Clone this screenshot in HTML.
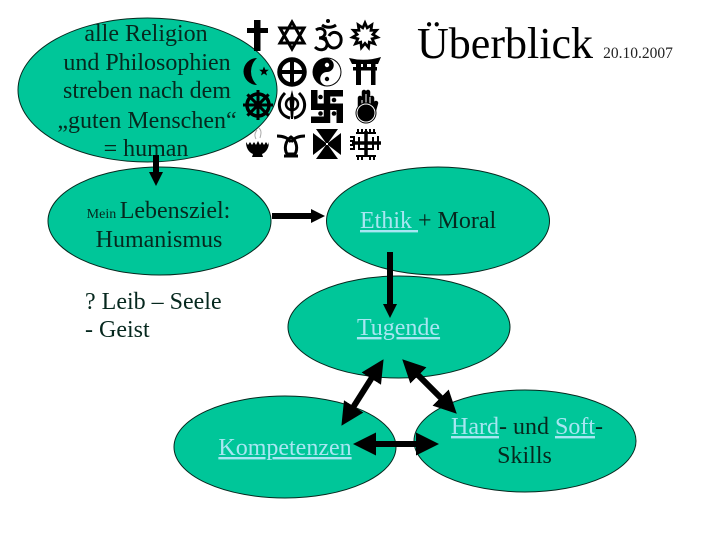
<!DOCTYPE html>
<html><head><meta charset="utf-8"><style>
html,body{margin:0;padding:0;background:#fff}
svg{display:block}
text{font-family:"Liberation Serif",serif;font-size:24px;fill:#06281e;text-anchor:middle}
.l{fill:#a8e6f2;text-decoration:underline;text-decoration-thickness:2px}
</style></head><body>
<svg width="720" height="540" viewBox="0 0 720 540" xmlns="http://www.w3.org/2000/svg">
<rect width="720" height="540" fill="#fff"/>
<defs>
<marker id="s" markerUnits="userSpaceOnUse" markerWidth="14" markerHeight="14" refX="8" refY="7" orient="auto-start-reverse"><path d="M0 0L14 7L0 14z" fill="#000"/></marker>
<marker id="b" markerUnits="userSpaceOnUse" markerWidth="23" markerHeight="23" refX="12" refY="11.500" orient="auto-start-reverse"><path d="M0 0L23 11.500L0 23z" fill="#000"/></marker>
</defs>
<!-- ellipses -->
<g fill="#00c699" stroke="#06281e" stroke-width="1">
<ellipse cx="147.500" cy="90" rx="129.500" ry="72"/>
<ellipse cx="159.500" cy="221" rx="111.500" ry="54"/>
<ellipse cx="438" cy="221" rx="111.500" ry="54"/>
<ellipse cx="399" cy="327" rx="111" ry="51"/>
<ellipse cx="285" cy="447" rx="111" ry="51"/>
<ellipse cx="525" cy="441" rx="111" ry="51"/>
</g>
<!-- religious symbols -->
<g fill="#000">
<!-- row 1 -->
<rect x="254" y="20" width="6.500" height="31"/><rect x="247" y="28" width="21" height="5"/>
<g fill="none" stroke="#000" stroke-width="3"><path d="M292 22l12 21h-24zM292 49l12-21h-24z"/></g>
<g fill="none" stroke="#000" stroke-width="3"><path d="M316 30c4-3 10-1 9 4-1 3-3 4-6 4 6 0 9 4 8 7-1 6-8 6-12 2"/><path d="M325 37c2 8 5 11 9 11s8-4 7-10-9-8-12-2"/><path d="M322 25c4 3 10 3 14 0"/></g>
<circle cx="328" cy="21" r="2"/>
<g transform="translate(365,35.500)">
<polygon points="0,-16 2.800,-9.600 8.600,-13.500 7.600,-6.500 14.600,-6.600 9.900,-1.400 15.800,2.300 9.100,4.200 12.100,10.500 5.400,8.400 4.500,15.400 0,10 -4.500,15.400 -5.400,8.400 -12.100,10.500 -9.100,4.200 -15.800,2.300 -9.900,-1.400 -14.600,-6.600 -7.600,-6.500 -8.600,-13.500 -2.800,-9.600"/>
<polygon transform="scale(.58)" fill="#fff" points="0,-16 2.800,-9.600 8.600,-13.500 7.600,-6.500 14.600,-6.600 9.900,-1.400 15.800,2.300 9.100,4.200 12.100,10.500 5.400,8.400 4.500,15.400 0,10 -4.500,15.400 -5.400,8.400 -12.100,10.500 -9.100,4.200 -15.800,2.300 -9.900,-1.400 -14.600,-6.600 -7.600,-6.500 -8.600,-13.500 -2.800,-9.600"/>
</g>
<!-- row 2 -->
<path d="M257 58A13.500 13.500 0 0 0 257 85A18.200 18.200 0 0 1 257 58z"/>
<path d="M264 66.500l1.300 3.300h3.500l-2.800 2.200 1 3.500-3-2-3 2 1-3.500-2.800-2.200h3.500z"/>
<g fill="none" stroke="#000"><circle cx="292" cy="72" r="12.500" stroke-width="4.500"/><path d="M292 60v24M280 72h24" stroke-width="4"/></g>
<circle cx="327" cy="72" r="14.500"/>
<path d="M327 58.500A13.500 13.500 0 0 1 327 85.500A6.750 6.750 0 0 1 327 72A6.750 6.750 0 0 0 327 58.500z" fill="#fff"/>
<circle cx="327" cy="65" r="2.200" fill="#fff"/><circle cx="327" cy="79" r="2.200"/>
<path d="M349 58Q365 62 381 57L378 64H352z"/>
<rect x="353" y="67" width="24" height="3.500"/><rect x="356" y="64" width="5" height="21"/><rect x="371" y="64" width="4.500" height="21"/><rect x="363" y="64" width="4" height="3"/>
<!-- row 3 -->
<g fill="none" stroke="#000"><circle cx="258" cy="105" r="11" stroke-width="3.500"/><circle cx="258" cy="105" r="2.500" stroke-width="3"/><path d="M258 90v30M243 105h30M247.400 94.400l21.200 21.200M268.600 94.400l-21.200 21.200" stroke-width="3"/></g>
<path d="M292 90L294.500 100L293 119H291L289.500 100z"/>
<circle cx="292" cy="104" r="6" fill="none" stroke="#000" stroke-width="2.500"/>
<path d="M285 93C276 102 278 115 290 118M299 93C308 102 306 115 294 118" fill="none" stroke="#000" stroke-width="3"/>
<path d="M323.750 90H343V96.500H330.250V103.500H343V123H336.500V110H330.250V123H311V116.500H323.750V110H311V90H317.500V103.500H323.750z"/>
<circle cx="320.500" cy="97" r="2.300"/><circle cx="334" cy="100" r="2.300"/><circle cx="320.500" cy="113.500" r="2.300"/><circle cx="334" cy="113.500" r="2.300"/>
<g stroke="#000" stroke-width="4.500" stroke-linecap="round" fill="none"><path d="M360 114V98M364 114V92M368 114V92M372 114V98M374 110L376 103"/></g>
<g stroke="#fff" stroke-width="1" fill="none"><path d="M362 100V104M366 94V104M370 97V104"/></g>
<circle cx="366" cy="113" r="10.500"/><circle cx="366" cy="113" r="9" fill="none" stroke="#fff" stroke-width="1"/>
<!-- row 4 -->
<path d="M246 142l2 3 2-3 2 3 2-3 2 3 2-4 2 4 2-3 2 3 2-3 2 3 1-3c0 7-4 11-7 12l1 3h-11l1-3c-5-2-7-7-7-12z"/>
<path d="M257 130c-2 3-3 5-1 9M259 128c3 3 2 6 1 10" fill="none" stroke="#aaa" stroke-width="1"/>
<g fill="none" stroke="#000" stroke-width="3"><path d="M277 136c6 0 11 2 14 6M305 136c-6 0-11 2-14 6"/><path d="M291 137c-6 4-7 12-4 17h8c3-5 2-13-4-17z"/><path d="M284 156h14"/></g>
<path d="M316 129H338L328 143H326z"/>
<path d="M316 159H338L328 145H326z"/>
<path d="M313 133L326 143V145L313 155z"/>
<path d="M341 133L328 143V145L341 155z"/>
<g stroke="#000" fill="none"><path d="M366 131V156M352 143H381" stroke-width="3.500"/><path d="M359 137V149H373V137" stroke-width="2"/><path d="M356 133H376M356 156H376M354 136V150M378 136V150" stroke-width="2"/><path d="M358 129V133M362 129V133M366 129V133M370 129V133M374 129V133M358 156V160M362 156V160M370 156V160M374 156V160M350 137H354M350 141H354M350 145H354M350 149H354" stroke-width="2"/></g>
</g>
<!-- labels -->
<text x="146" y="41">alle Religion</text>
<text x="147" y="70">und Philosophien</text>
<text x="147" y="98">streben nach dem</text>
<text x="147" y="128">„guten Menschen“</text>
<text x="146" y="156">= human</text>
<text x="158.500" y="218"><tspan font-size="14">Mein </tspan>Lebensziel:</text>
<text x="159" y="247">Humanismus</text>
<text x="85" y="309" style="text-anchor:start">? Leib – Seele</text>
<text x="85" y="337" style="text-anchor:start">- Geist</text>
<text x="360" y="228" style="text-anchor:start"><tspan class="l">Ethik </tspan>+ Moral</text>
<text x="398.500" y="335" class="l">Tugende</text>
<text x="285" y="455" class="l">Kompetenzen</text>
<text x="527" y="434"><tspan class="l">Hard</tspan>- und <tspan class="l">Soft</tspan>-</text>
<text x="524.500" y="463">Skills</text>
<text x="505" y="58" style="font-size:44px;fill:#000">Überblick</text>
<text x="638" y="58" style="font-size:15.500px;fill:#222">20.10.2007</text>
<!-- arrows -->
<g stroke="#000" stroke-width="6" fill="none">
<path d="M156 155V180" marker-end="url(#s)"/>
<path d="M272 216H319" marker-end="url(#s)"/>
<path d="M390 252V312" marker-end="url(#s)"/>
<path d="M377.700 368.500L347.300 416.500" marker-start="url(#b)" marker-end="url(#b)"/>
<path d="M410 367L449 406" marker-start="url(#b)" marker-end="url(#b)"/>
<path d="M364 444H428" marker-start="url(#b)" marker-end="url(#b)"/>
</g>
</svg>
</body></html>
